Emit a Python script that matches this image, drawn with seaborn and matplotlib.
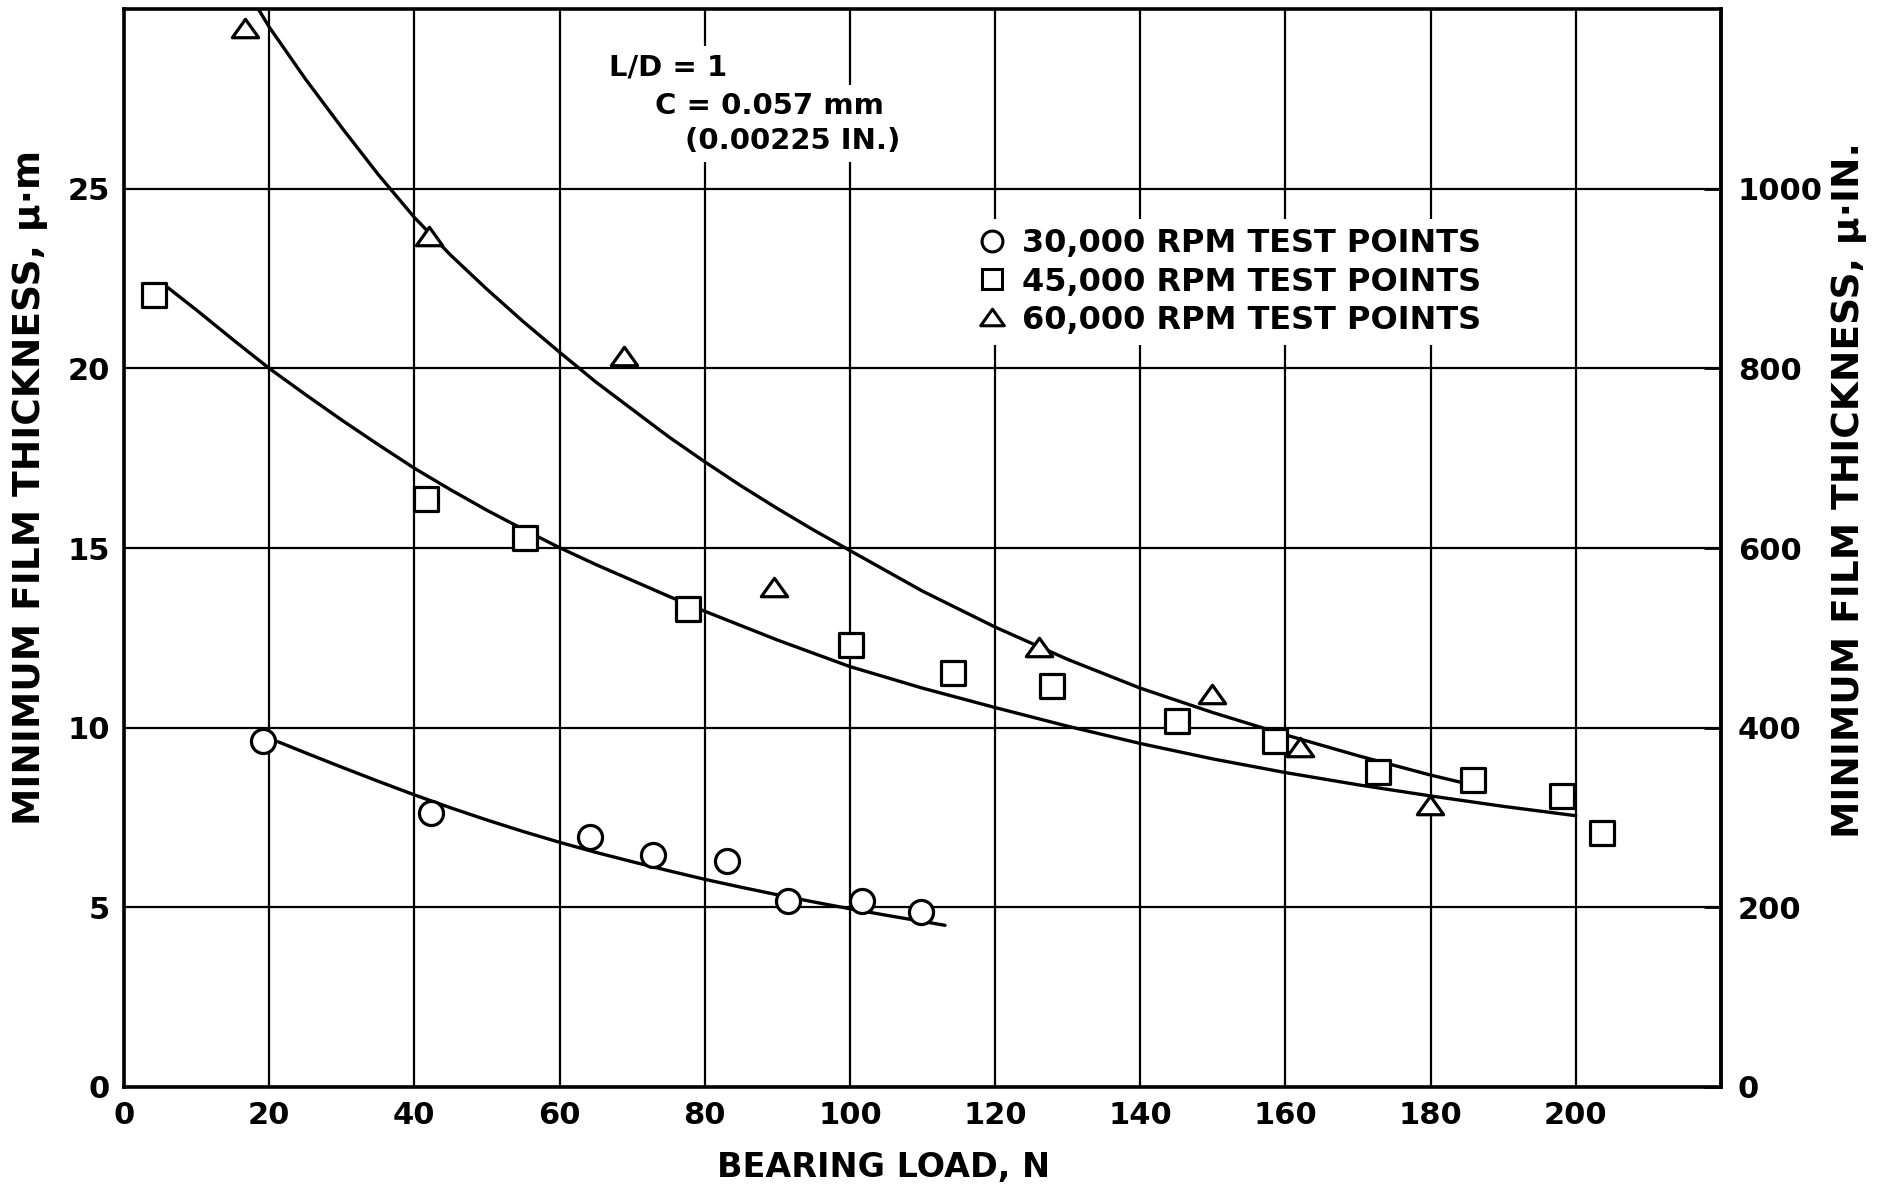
import matplotlib
matplotlib.use("Agg")
import matplotlib.pyplot as plt
import seaborn as sns
from matplotlib.path import Path
from matplotlib.lines import Line2D

# ---- data ----
load_30k = [19.2, 42.3, 64.2, 72.9, 83.1, 91.5, 101.6, 109.8]
h_30k = [9.64, 7.63, 6.97, 6.46, 6.28, 5.18, 5.18, 4.86]

load_45k = [4.2, 41.6, 55.3, 77.7, 100.1, 114.2, 127.8, 145.0, 158.5, 172.7, 185.8, 198.1, 203.6]
h_45k = [22.04, 16.36, 15.27, 13.30, 12.29, 11.51, 11.16, 10.19, 9.63, 8.78, 8.54, 8.11, 7.06]

load_60k = [16.6, 42.0, 68.9, 89.6, 126.0, 149.9, 162.0, 179.9]
h_60k = [29.46, 23.67, 20.35, 13.91, 12.25, 10.93, 9.47, 7.85]

# fitted curves
curve_load_30k = [21.2, 25, 30, 35, 40, 45, 50, 55, 60, 65, 70, 75, 80, 85, 90, 95, 100, 105, 113.1]
curve_h_30k = [9.61, 9.30, 8.90, 8.51, 8.13, 7.77, 7.43, 7.11, 6.81, 6.53, 6.27, 6.02, 5.78,
               5.56, 5.35, 5.15, 4.96, 4.78, 4.50]

curve_load_45k = [5.7, 10, 15, 20, 25, 30, 35, 40, 45, 50, 55, 60, 65, 70, 75, 80, 90, 100,
                  110, 120, 130, 140, 150, 160, 170, 180, 190, 200]
curve_h_45k = [22.3, 21.62, 20.8, 20.0, 19.27, 18.56, 17.88, 17.22, 16.62, 16.05, 15.52,
               15.01, 14.54, 14.10, 13.66, 13.24, 12.44, 11.70, 11.10, 10.56, 10.04, 9.56,
               9.13, 8.75, 8.41, 8.10, 7.81, 7.55]

curve_load_60k = [18.5, 20, 25, 30, 35, 40, 45, 50, 55, 60, 65, 70, 75, 80, 85, 90, 95, 100,
                  110, 120, 130, 140, 150, 160, 170, 180, 184.8]
curve_h_60k = [30.0, 29.5, 28.05, 26.7, 25.4, 24.2, 23.15, 22.2, 21.3, 20.45, 19.62, 18.86,
               18.1, 17.4, 16.73, 16.1, 15.5, 14.93, 13.8, 12.8, 11.9, 11.1, 10.42, 9.8,
               9.22, 8.68, 8.45]

series_labels = ["30,000 RPM TEST POINTS", "45,000 RPM TEST POINTS", "60,000 RPM TEST POINTS"]
x_ticks = list(range(0, 201, 20))
y_ticks = list(range(0, 26, 5))
y2_ticks = list(range(0, 1001, 200))

UM_TO_UIN = 40.0  # right-hand scale as drawn on the chart (1000 μin at the 25 μm line)

sns.set_theme(style="white")
plt.rcParams["font.family"] = ["DejaVu Sans"]
plt.rcParams["font.weight"] = "bold"
plt.rcParams["text.color"] = "black"
plt.rcParams["axes.labelcolor"] = "black"
plt.rcParams["xtick.color"] = "black"
plt.rcParams["ytick.color"] = "black"

W, H = 1884, 1186
L, R, T, B = 124, 1721, 9, 1087
fig = plt.figure(figsize=(W / 100, H / 100), dpi=100)
ax = fig.add_axes([L / W, 1 - B / H, (R - L) / W, (B - T) / H])


def fx(px):
    return (px - L) / (R - L)


def fy(py):
    return 1 - (py - T) / (B - T)


tri = Path([(-1, -0.7), (1, -0.7), (0, 0.7), (-1, -0.7)],
           [Path.MOVETO, Path.LINETO, Path.LINETO, Path.CLOSEPOLY])

# curves
for lx, ly in [(curve_load_30k, curve_h_30k), (curve_load_45k, curve_h_45k),
               (curve_load_60k, curve_h_60k)]:
    sns.lineplot(x=lx, y=ly, ax=ax, color="black", linewidth=2.4, zorder=3)

# points
pts = [(load_30k, h_30k, "o", 300), (load_45k, h_45k, "s", 280), (load_60k, h_60k, tri, 360)]
for lx, ly, mk, s in pts:
    sns.scatterplot(x=lx, y=ly, ax=ax, marker=mk, s=s, color="white",
                    edgecolor="black", linewidth=2.3, zorder=4)

ax.set_xlim(0, 220)
ax.set_ylim(0, 30)
ax.set_xticks(x_ticks)
ax.set_yticks(y_ticks)
ax.set_axisbelow(True)
ax.grid(True, color="black", linewidth=1.6)
for sp in ax.spines.values():
    sp.set_color("black")
    sp.set_linewidth(2.6)
ax.tick_params(axis="both", length=0, labelsize=22, colors="black")
ax.tick_params(axis="x", pad=10)
ax.tick_params(axis="y", pad=10)

ax.set_xlabel("BEARING LOAD, N", fontsize=24, fontweight="bold", ha="center", va="center")
ax.xaxis.set_label_coords(884 / W, 1 - 1167 / H, transform=fig.transFigure)
ax.set_ylabel("MINIMUM FILM THICKNESS, μ·m", fontsize=27, fontweight="bold",
              ha="center", va="center")
ax.yaxis.set_label_coords(30 / W, 1 - 487 / H, transform=fig.transFigure)

sec = ax.secondary_yaxis("right", functions=(lambda v: v * UM_TO_UIN, lambda v: v / UM_TO_UIN))
sec.set_yticks(y2_ticks)
sec.tick_params(axis="y", direction="in", length=12, width=2, labelsize=22, pad=12, colors="black")
sec.spines["right"].set_linewidth(2.6)
sec.set_ylabel("MINIMUM FILM THICKNESS, μ·IN.", fontsize=27, fontweight="bold",
               rotation=90, ha="center", va="center")
sec.yaxis.set_label_coords(1849 / W, 1 - 490 / H, transform=fig.transFigure)

# annotation
box = dict(facecolor="white", edgecolor="none", pad=5)
ann = [("L/D = 1", 609, 67), ("C = 0.057 mm", 655, 106), ("(0.00225 IN.)", 685, 141)]
for txt, px, py in ann:
    ax.text(fx(px), fy(py), txt, transform=ax.transAxes, fontsize=21, fontweight="bold",
            ha="left", va="center", bbox=box, zorder=5, color="black")

# legend
handles = [
    Line2D([], [], marker="o", ls="none", mfc="white", mec="black", ms=15, mew=2.2),
    Line2D([], [], marker="s", ls="none", mfc="white", mec="black", ms=14, mew=2.2),
    Line2D([], [], marker=tri, ls="none", mfc="white", mec="black", ms=17, mew=2.2),
]
leg = ax.legend(handles, series_labels, loc="center left",
                bbox_to_anchor=(fx(963), fy(282)), frameon=True, fancybox=False,
                facecolor="white", edgecolor="none", framealpha=1,
                prop={"size": 23, "weight": "bold"}, handlelength=1.2,
                handletextpad=0.35, labelspacing=0.22, borderpad=0.3, borderaxespad=0)
leg.set_zorder(6)
for t in leg.get_texts():
    t.set_color("black")

fig.savefig("out.png", dpi=100, facecolor="white")
